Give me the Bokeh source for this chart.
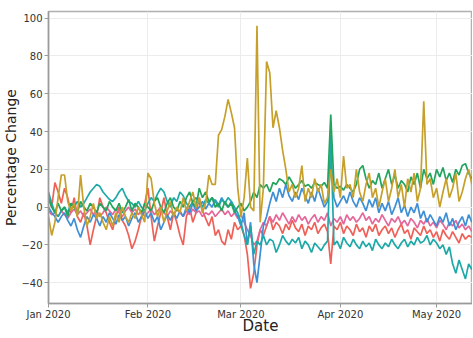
from datetime import datetime, timedelta
import pandas as pd
from bokeh.plotting import figure
from bokeh.models import Range1d, MonthsTicker, DatetimeTickFormatter, FixedTicker
from bokeh.embed import file_html
from bokeh.resources import INLINE

start_date = "2020-01-01"

gold = [
    -5, -15, -8, 5, 17, 17, 3, -2, 2, -5,
    17, 0, -10, -5, 2, -6, -3, -8, -12, -5,
    -10, -3, -8, 0, -5, -8, -3, -6, 0, -4,
    -8, 18, 15, 2, -5, 0, -8, -2, 3, -5,
    0, -3, 5, -2, 3, 8, 0, 5, -3, 2,
    17, 12, 12, 38, 41, 48, 57, 50, 42, 10,
    -5, 5, 26, 0, -2, 96, -8, 10, 77, 71,
    42, 51, 42, 30, 20, 8, 12, 5, 10, 22,
    3, 10, 5, 15, 8, 12, 2, 5, 20, 8,
    15, 5, 27, 10, 12, 5, 20, 8, 3, 12,
    18, 5, 10, 0, 8, 15, 3, 10, 20, 5,
    12, 0, 15, 8, 18, 3, 10, 56, 12, 15,
    5, 10, 0, 8, 15, 5, 10, 18, 3, 8,
    15, 20, 12,
]

green = [
    5, 0, -3, 2, -2, 0, -5, 2, 0, -3,
    3, 0, -2, 2, 0, -3, 2, 0, -2, 3,
    0, -2, 2, -3, 0, 4, -2, 2, 0, -3,
    2, 0, -2, 3, 5, 0, -3, 2, 5, 0,
    -2, 3, 0, 5, 8, 2, 0, 10, 5, 8,
    3, 5, 0, 2, -2, 3, 0, 2, -3, 0,
    2, -2, 0, 3, 8, 5, 12, 10, 12, 8,
    13, 12, 15, 14, 12, 16, 13, 10, 12, 14,
    11, 12, 10, 13, 12, 11, 13, 10, 49, 12,
    10, 11, 9, 12, 10, 8, 12, 20, 22, 15,
    10, 14, 12, 18, 10, 15, 20, 12, 17, 10,
    14, 12, 8, 16, 12, 18, 10, 20, 15, 18,
    12, 20, 16, 21, 14, 18, 13, 20, 17, 22,
    23, 18, 15,
]

teal = [
    8, 2, -3, -5, -2, 0, -3, 2, 0, 3,
    0, 2, 5, 8, 10, 12, 11, 8, 6, 4,
    3, 5, 8, 10, 6, 3, 2, 0, 3, 0,
    -2, 2, 5, 3, 7, 10, 8, 3, 0, 5,
    3, 8, 6, 2, 0, 3, 5, 2, 0, 4,
    2, 5, 3, 0, 4, 2, 5, 3, 0, -3,
    -8, -15, -20, -10, -25, -18, -20, -15, -20, -17,
    -18, -24, -20, -15, -18, -20, -17, -19, -16, -22,
    -18, -20, -24, -19, -21, -23, -20, -18, 38, -20,
    -18, -22, -16, -19, -21, -17, -20, -22, -18, -21,
    -19, -23, -17, -20, -22, -19, -21, -17, -20, -22,
    -19, -17, -21, -18, -20, -16, -19, -18, -15, -20,
    -17, -19, -22, -20, -25, -21, -30, -35, -28, -33,
    -38, -30, -33,
]

blue = [
    0, -3, -5, -8, -5, -3, -7, -10, -6, -12,
    -16, -10, -5, -8, -4, -6, -10, -5, -8, -3,
    -6, -9, -4, -7, -5, -10, -6, -3, -8, -5,
    -2, -6, -3, -8, -5, -12, -8, -4, -7, -3,
    -6, -2, -5, 0, -3, 2, -2, 0, 3, -1,
    2, 0, 4, 1, 5, 2, 0, 3, -2, -5,
    -10, -3, -20, -8, -30, -40, -25, -10, -5, 2,
    8, 3, 10, 5, 12, 6, 3, 8, 4, 10,
    6, 2, 8, 3, 10, 5, 0, 3, 25, 5,
    0, 3, 6, 2, 8, 3, 0, 5, 2, -2,
    4, 0, 5, -3, 2, -2, 3, -4, 0, 5,
    -3, 1, -5, 0, -3, 2, -6, -2, -8, -4,
    -7, -10, -5, -8, -3, -10, -6, -12, -8, -5,
    -10, -4, -8,
]

red = [
    5, 0, 13, 8, 2, 10, 5, -3, 5, -5,
    -8, -3, -10, -20, -12, -5, 5, 0, -3, -8,
    -12, -5, 0, -7, -10, -15, -22, -18, -12, -5,
    2, 10, -5, -18, -10, -3, 5, -5, -12, -3,
    -8, -15, -20, -5, 0, -8, -3, 5, -2, -6,
    -10, -5, -15, -12, -18, -20, -12, -17, -8, -12,
    -10, -15, -25, -43, -35, -20, -12, -15, -10, -5,
    -12, -8, -10, -14, -9, -12, -7, -11, -13, -9,
    -15, -10, -12, -8, -14, -11, -9, -13, -30, -10,
    -12, -8, -14, -10, -12, -15, -9, -13, -11, -16,
    -10, -13, -9, -15, -12, -10, -14, -11, -16, -12,
    -9, -14, -12, -17, -11, -13, -15, -10, -14, -12,
    -16, -13, -18, -12, -15, -17, -13, -16, -19, -14,
    -17, -15, -16,
]

pink = [
    -2, -4, -3, -5, -2, -4, -6, -3, -1, -4,
    -2, -5, -3, -1, -4, -2, -5, -3, 0, -2,
    -4, -1, -3, -5, -2, 0, -3, -1, -4, -2,
    -5, -3, -1, -4, -2, 0, -3, -5, -2, -4,
    -1, -3, -5, -2, -4, -1, -3, -2, -5, -3,
    -4, -2, -5, -3, -1, -4, -2, -5, -3, -6,
    -4, -8, -12, -15, -20, -18, -12, -8, -10, -5,
    -8, -4, -7, -3, -6, -9, -5, -8, -4, -7,
    -5, -9, -6, -4, -8, -5, -7, -3, -10, -6,
    -8, -5, -9, -4, -7, -5, -8, -6, -3, -7,
    -5, -9, -6, -8, -4, -7, -10, -6, -8, -5,
    -9, -7, -10, -6, -8, -11, -7, -9, -6, -10,
    -8, -11, -7, -9, -12, -8, -10, -7, -11, -9,
    -12, -10, -13,
]

series = [
    ("red", red, "#ef6158"),
    ("pink", pink, "#e5679a"),
    ("blue", blue, "#3e8fd6"),
    ("teal", teal, "#1ea9a8"),
    ("green", green, "#22a45e"),
    ("gold", gold, "#c6a02a"),
]

x_start = datetime(2020, 1, 1)
x_end = x_start + timedelta(days=132.2)

p = figure(
    x_axis_type="datetime",
    width=472,
    height=337,
    min_border_left=48,
    min_border_right=0,
    min_border_top=11,
    min_border_bottom=10,
    x_range=Range1d(x_start, x_end),
    y_range=Range1d(-51, 103.5),
    output_backend="svg",
    toolbar_location=None,
    background_fill_color="white",
    border_fill_color="white",
)

for name, vals, color in series:
    dates = pd.date_range(start_date, periods=len(vals), freq="D")
    p.line(dates, vals, line_color=color, line_width=1.7)

p.xaxis.ticker = MonthsTicker(months=list(range(12)))
p.xaxis.formatter = DatetimeTickFormatter(months="%b %Y", days="%b %Y")
p.yaxis.ticker = FixedTicker(ticks=[-40, -20, 0, 20, 40, 60, 80, 100])

for ax in (p.xaxis, p.yaxis):
    ax.axis_line_color = "#9a9a9a"
    ax.axis_line_width = 1.5
    ax.major_tick_line_color = "#9a9a9a"
    ax.major_tick_out = 4
    ax.major_tick_in = 0
    ax.minor_tick_line_color = None
    ax.major_label_text_font = "DejaVu Sans"
    ax.major_label_text_font_size = "10px"
    ax.major_label_text_color = "#333333"
    ax.axis_label_text_font = "DejaVu Sans"
    ax.axis_label_text_font_style = "normal"
    ax.axis_label_text_color = "#222222"

p.xaxis.axis_label = "Date"
p.xaxis.axis_label_text_font_size = "15px"
p.xaxis.major_label_standoff = 1
p.xaxis.axis_label_standoff = -6
p.yaxis.axis_label = "Percentage Change"
p.yaxis.axis_label_text_font_size = "14px"
p.yaxis.major_label_standoff = 2
p.yaxis.axis_label_standoff = -1

p.grid.grid_line_color = "#ececec"
p.grid.grid_line_width = 1
p.outline_line_color = "#b0b0b0"
p.outline_line_width = 1.5

open("out.html", "w").write(file_html(p, INLINE))
